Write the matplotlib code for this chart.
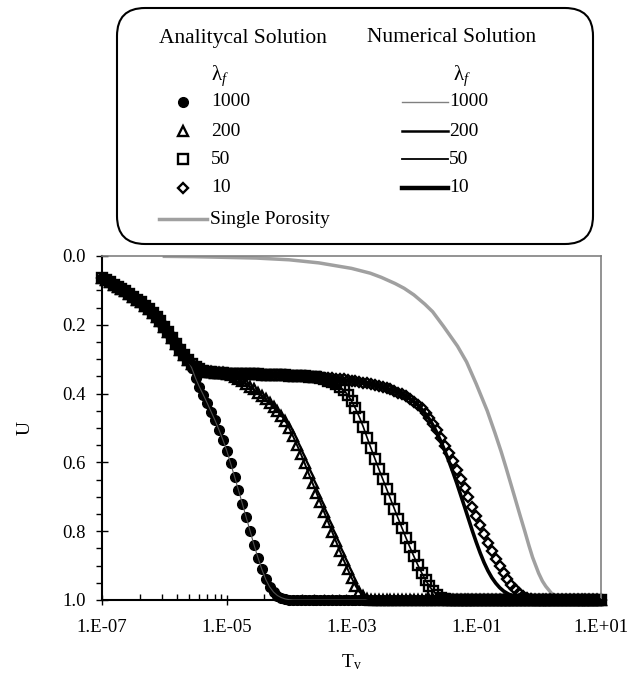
import numpy as np
import matplotlib.pyplot as plt
from matplotlib.patches import FancyBboxPatch
from matplotlib.ticker import FixedLocator, FuncFormatter, NullFormatter

plt.rcParams['font.family'] = ['Liberation Serif', 'DejaVu Serif']
plt.rcParams['mathtext.fontset'] = 'custom'
plt.rcParams['mathtext.rm'] = 'Liberation Serif'
plt.rcParams['mathtext.it'] = 'Liberation Serif:italic'

# time factor Tv, 16 samples per decade from 1e-7 to 1e1
tv = np.logspace(-7, 1, 129)

# degree of consolidation U, common start for every lambda_f
u_start = [0.065, 0.071, 0.077, 0.083, 0.089, 0.096, 0.103, 0.111, 0.119, 0.127,
           0.135, 0.144, 0.154, 0.165, 0.177, 0.190, 0.205, 0.221, 0.238, 0.255,
           0.272, 0.288, 0.302]
# plateau shared by lambda_f = 200, 50, 10
u_plateau = [0.314, 0.323, 0.329, 0.333, 0.336, 0.338, 0.339, 0.340, 0.341]
# plateau shared by lambda_f = 50, 10
u_plateau_long = [0.342, 0.342, 0.342, 0.343, 0.343, 0.343, 0.344, 0.344, 0.344,
                  0.345, 0.345, 0.345, 0.346, 0.346, 0.347, 0.347, 0.348, 0.348,
                  0.349, 0.349, 0.350, 0.351, 0.352, 0.352]
# lambda_f = 10 before the drop
u_plateau_10 = [0.353, 0.354, 0.355, 0.356, 0.357, 0.358, 0.359, 0.361, 0.362,
                0.364, 0.366, 0.368, 0.370, 0.372, 0.375, 0.378, 0.381, 0.384,
                0.388, 0.392, 0.397, 0.402, 0.408, 0.415]

drop_1000 = [0.325, 0.355, 0.381, 0.404, 0.428, 0.453, 0.478, 0.505, 0.534, 0.566,
             0.603, 0.641, 0.680, 0.720, 0.760, 0.800, 0.840, 0.877, 0.911, 0.940,
             0.962, 0.977, 0.987, 0.993, 0.997, 0.999]
drop_200 = [0.344, 0.347, 0.351, 0.357, 0.364, 0.372, 0.380, 0.388, 0.397, 0.407,
            0.417, 0.428, 0.439, 0.451, 0.464, 0.479, 0.500, 0.524, 0.549, 0.575,
            0.603, 0.632, 0.660, 0.688, 0.716, 0.745, 0.773, 0.801, 0.829, 0.857,
            0.884, 0.910, 0.935, 0.958, 0.976, 0.989, 0.996, 0.999]
drop_50 = [0.355, 0.358, 0.362, 0.367, 0.373, 0.380, 0.390, 0.403, 0.421, 0.443,
           0.468, 0.496, 0.528, 0.559, 0.589, 0.619, 0.648, 0.677, 0.706, 0.735,
           0.764, 0.792, 0.820, 0.847, 0.873, 0.898, 0.921, 0.942, 0.960, 0.975,
           0.986, 0.993, 0.997, 0.999]
drop_10 = [0.423, 0.432, 0.443, 0.456, 0.471, 0.488, 0.507, 0.528, 0.551, 0.573,
           0.597, 0.622, 0.648, 0.675, 0.702, 0.729, 0.756, 0.783, 0.808, 0.833,
           0.857, 0.880, 0.901, 0.921, 0.939, 0.955, 0.968, 0.979, 0.987, 0.993,
           0.997, 0.999]
# numerical result for lambda_f = 10 (the others coincide with the analytical points)
drop_10_num = [0.423, 0.433, 0.445, 0.459, 0.475, 0.494, 0.516, 0.541, 0.568, 0.597,
               0.628, 0.660, 0.694, 0.729, 0.764, 0.799, 0.832, 0.863, 0.891, 0.915,
               0.935, 0.951, 0.964, 0.974, 0.981, 0.987, 0.991, 0.994, 0.996, 0.998,
               0.999]

# single porosity
tv_single = [1e-6, 3e-6, 1e-5, 3e-5, 1e-4, 3e-4, 1e-3, 2e-3, 3e-3, 5e-3, 7e-3, 0.01,
             0.015, 0.02, 0.03, 0.05, 0.07, 0.1, 0.15, 0.2, 0.25, 0.3, 0.4, 0.5,
             0.6, 0.7, 0.8, 1.0, 1.15, 1.3, 1.6, 2.0, 2.5, 3.0, 5.0, 10.0]
u_single = [0.001, 0.002, 0.004, 0.006, 0.011, 0.020, 0.036, 0.050, 0.062, 0.080,
            0.094, 0.113, 0.140, 0.162, 0.205, 0.262, 0.308, 0.372, 0.450, 0.515,
            0.568, 0.615, 0.692, 0.752, 0.800, 0.842, 0.876, 0.922, 0.945, 0.960,
            0.980, 0.993, 0.997, 0.999, 1.0, 1.0]


def full(vals):
    return np.array(vals + [1.0] * (len(tv) - len(vals)))


u_1000 = full(u_start + drop_1000)
u_200 = full(u_start + u_plateau + drop_200)
u_50 = full(u_start + u_plateau + u_plateau_long + drop_50)
u_10 = full(u_start + u_plateau + u_plateau_long + u_plateau_10 + drop_10)
u_10_num = full(u_start + u_plateau + u_plateau_long + u_plateau_10 + drop_10_num)

fig = plt.figure(figsize=(6.28, 6.73), dpi=100)
ax = fig.add_axes([102 / 628, 73 / 673, 499 / 628, 344 / 673])

ax.plot(tv_single, u_single, color='#a0a0a0', lw=2.5, zorder=1)

ax.plot(tv, u_1000, 'o', color='black', ms=7, clip_on=False, zorder=2)
ax.plot(tv, u_200, '^', mfc='none', mec='black', mew=1.7, ms=7, clip_on=False, zorder=2)
ax.plot(tv, u_50, 's', mfc='none', mec='black', mew=1.7, ms=6.5, clip_on=False, zorder=2)
ax.plot(tv, u_10, 'D', mfc='none', mec='black', mew=1.7, ms=5, clip_on=False, zorder=2)

ax.plot(tv, u_1000, color='#505050', lw=0.8, zorder=3)
ax.plot(tv, u_200, color='black', lw=1.4, zorder=3)
ax.plot(tv, u_50, color='black', lw=1.2, zorder=3)
ax.plot(tv, u_10_num, color='black', lw=2.6, zorder=3)

ax.set_xscale('log')
ax.set_xlim(1e-7, 10)
ax.set_ylim(1, 0)

majors = [1e-7, 1e-5, 1e-3, 1e-1, 1e1]
minors = [m * k * k for m in majors[:-1] for k in range(2, 10)]
ax.xaxis.set_major_locator(FixedLocator(majors))
ax.xaxis.set_minor_locator(FixedLocator(minors))
ax.xaxis.set_major_formatter(FuncFormatter(lambda v, p: '1.E%+03d' % round(np.log10(v))))
ax.xaxis.set_minor_formatter(NullFormatter())
ax.set_yticks(np.arange(0, 1.01, 0.2))
ax.set_yticks(np.arange(0, 1.01, 0.05), minor=True)
ax.yaxis.set_major_formatter(FuncFormatter(lambda v, p: '%.1f' % v))

ax.tick_params(axis='x', which='major', direction='inout', length=7, width=1, labelsize=13.5, pad=10)
ax.tick_params(axis='x', which='minor', direction='in', length=4, width=1)
ax.tick_params(axis='y', which='major', direction='inout', length=9, width=1, labelsize=13.5, pad=7)
ax.tick_params(axis='y', which='minor', direction='out', length=4, width=1)

for side in ['top', 'right']:
    ax.spines[side].set_color('#808080')
    ax.spines[side].set_linewidth(1.2)
for side in ['left', 'bottom']:
    ax.spines[side].set_linewidth(1.5)

ax.set_xlabel('T$_{\\mathrm{v}}$', fontsize=14, labelpad=12)
ax.set_ylabel('U', fontsize=14, labelpad=21)

# legend panel, drawn in pixel coordinates
lax = fig.add_axes([0, 0, 1, 1], zorder=-1)
lax.set_xlim(0, 628)
lax.set_ylim(673, 0)
lax.axis('off')
lax.add_patch(FancyBboxPatch((117, 8), 476, 236, boxstyle='round,pad=0,rounding_size=28',
                             fc='white', ec='black', lw=1.5))

lax.text(243, 38, 'Analitycal Solution', fontsize=15.5, ha='center', va='center')
lax.text(452, 38, 'Numerical Solution', fontsize=15.5, ha='center', va='center')
lax.text(220, 76, 'λ$_{f}$', fontsize=15, ha='center', va='center')
lax.text(462, 76, 'λ$_{f}$', fontsize=15, ha='center', va='center')

rows = [102, 131, 159, 188]
labels = ['1000', '200', '50', '10']
lax.plot(183, rows[0], 'o', color='black', ms=7)
lax.plot(183, rows[1], '^', mfc='none', mec='black', mew=1.7, ms=7)
lax.plot(183, rows[2], 's', mfc='none', mec='black', mew=1.7, ms=6.5)
lax.plot(183, rows[3], 'D', mfc='none', mec='black', mew=1.7, ms=5)
line_styles = [('#808080', 1.0), ('black', 1.8), ('black', 1.3), ('black', 3.2)]
for y, lab, (c, w) in zip(rows, labels, line_styles):
    lax.text(211, y, lab, fontsize=14, ha='left', va='center')
    lax.plot([402, 448], [y, y], color=c, lw=w)
    lax.text(449, y, lab, fontsize=14, ha='left', va='center')

lax.plot([159, 207], [219, 219], color='#a0a0a0', lw=2.5)
lax.text(210, 219, 'Single Porosity', fontsize=14, ha='left', va='center')

fig.savefig('out.png', dpi=100)
